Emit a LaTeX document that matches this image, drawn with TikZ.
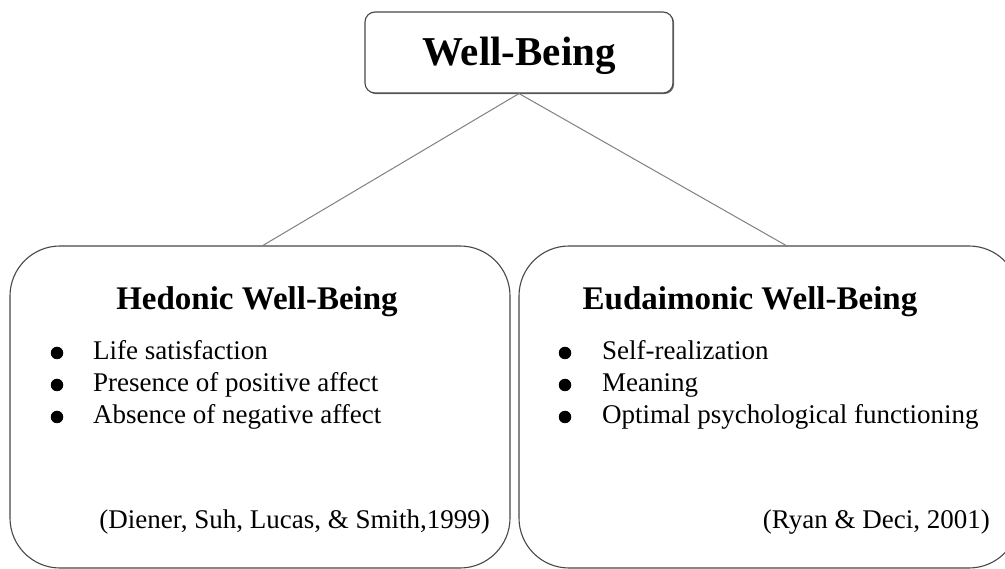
\documentclass[tikz,border=0pt]{standalone}
\usepackage{fontspec}
\setmainfont{Liberation Serif}
\usetikzlibrary{shadows}
\begin{document}
\begin{tikzpicture}[x=1pt,y=-1pt,
  frame/.style={draw=black!72, line width=1.1pt, fill=white},
  link/.style={draw=black!50, line width=1pt},
  title/.style={font=\fontsize{41}{48}\selectfont\bfseries, anchor=base, inner sep=0pt},
  heading/.style={font=\fontsize{33}{40}\selectfont\bfseries, anchor=base, inner sep=0pt},
  item/.style={font=\fontsize{27}{32}\selectfont, anchor=base west, inner sep=0pt},
  cite/.style={font=\fontsize{27}{32}\selectfont, anchor=base east, inner sep=0pt},
  dot/.style={circle, fill=black, inner sep=0pt, minimum size=12.5pt}]
\useasboundingbox (0,0) rectangle (1005,569);
\clip (0,0) rectangle (1005,569);

% top concept
\node[frame, rounded corners=10pt, minimum width=308pt, minimum height=81pt,
      drop shadow={shadow xshift=1.2pt, shadow yshift=-1.2pt, fill=black!55, opacity=1}]
      (top) at (519,52.5) {};
\node[title] (toplabel) at (519,66) {Well-Being};

% the two branches
\node[frame, rounded corners=50pt, minimum width=500pt, minimum height=322pt]
      (hed) at (260,407) {};
\node[frame, rounded corners=50pt, minimum width=500pt, minimum height=322pt]
      (eud) at (769,407) {};
\coordinate (hedjoin) at (262,246);
\coordinate (eudjoin) at (787,246);

\draw[link] (top.south) -- (hedjoin);
\draw[link] (top.south) -- (eudjoin);

% hedonic contents
\node[heading] (hedtitle) at (257,310) {Hedonic Well-Being};
\node[dot] (hb1) at (57,353) {};
\node[dot] (hb2) at (57,385) {};
\node[dot] (hb3) at (57,417) {};
\node[item] (hi1) at (93,360) {Life satisfaction};
\node[item] (hi2) at (93,392) {Presence of positive affect};
\node[item] (hi3) at (93,424) {Absence of negative affect};
\node[cite] (hcite) at (490,529) {(Diener, Suh, Lucas, \& Smith,1999)};

% eudaimonic contents
\node[heading] (eudtitle) at (750,310) {Eudaimonic Well-Being};
\node[dot] (eb1) at (565,353) {};
\node[dot] (eb2) at (565,385) {};
\node[dot] (eb3) at (565,417) {};
\node[item] (ei1) at (602,360) {Self-realization};
\node[item] (ei2) at (602,392) {Meaning};
\node[item] (ei3) at (602,424) {Optimal psychological functioning};
\node[cite] (ecite) at (990,529) {(Ryan \& Deci, 2001)};
\end{tikzpicture}
\end{document}
